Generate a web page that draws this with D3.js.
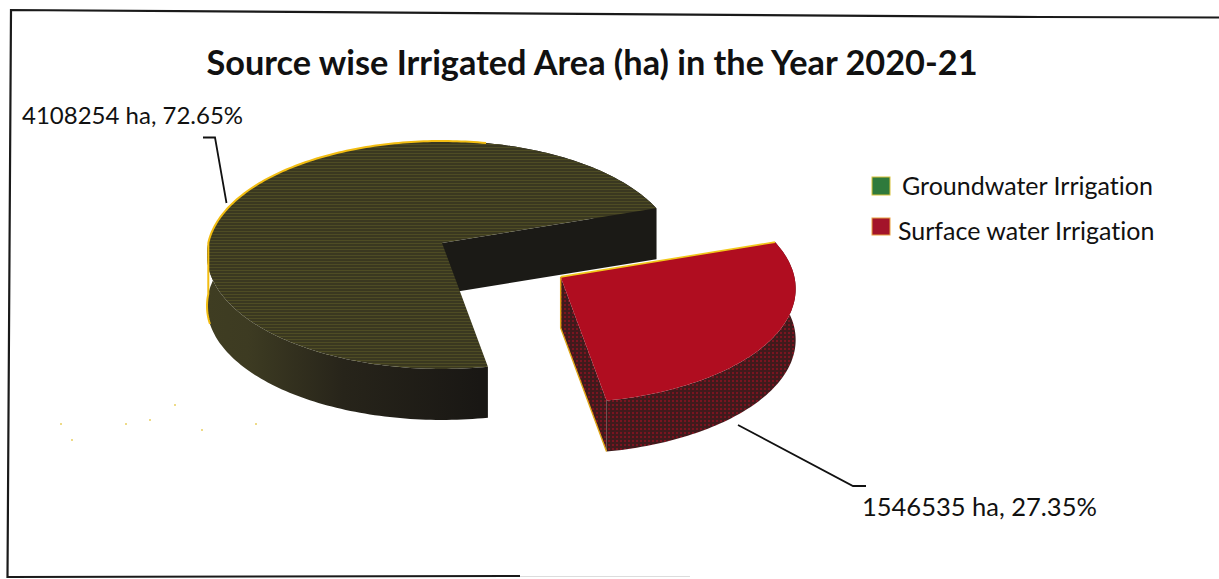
<!DOCTYPE html>
<html>
<head>
<meta charset="utf-8">
<script src="https://cdn.jsdelivr.net/npm/d3@7"></script>
<style>
  body { margin: 0; background: #fff; }
  text { fill: #111; font-family: Lato; font-variant-ligatures: none; }
</style>
</head>
<body>
<div id="chart"></div>
<script>
const categories = ['Groundwater Irrigation', 'Surface water Irrigation']
const areas = [4108254, 1546535]
const labels = ['4108254 ha, 72.65%', '1546535 ha, 27.35%']
const title = 'Source wise Irrigated Area (ha) in the Year 2020-21'

const width = 1219
const height = 579
const depth = 51
const explode = 0.572

// screen position of the pie centre and the radii of the tilted disc
const cx = 442
const cy = 243
const rx = 233.7
const ry = 112.7
const persp = 0.105
const deg = Math.PI / 180

const svg = d3
  .select('#chart')
  .append('svg')
  .attr('width', width)
  .attr('height', height)
  .style('display', 'block')

const defs = svg.append('defs')

// printed halftone look on the olive top
const oliveDots = defs
  .append('pattern')
  .attr('id', 'olive-top')
  .attr('patternUnits', 'userSpaceOnUse')
  .attr('width', 3)
  .attr('height', 3)
oliveDots.append('rect').attr('width', 3).attr('height', 3).attr('fill', '#3a3820')
oliveDots.append('rect').attr('width', 3).attr('height', 1).attr('fill', '#4e4c24')

const redHatch = defs
  .append('pattern')
  .attr('id', 'red-side')
  .attr('patternUnits', 'userSpaceOnUse')
  .attr('width', 4)
  .attr('height', 4)
redHatch.append('rect').attr('width', 4).attr('height', 4).attr('fill', '#401a1c')
redHatch.append('rect').attr('width', 2).attr('height', 2).attr('fill', '#7a1420')

const oliveSide = defs
  .append('linearGradient')
  .attr('id', 'olive-side')
  .attr('gradientUnits', 'userSpaceOnUse')
  .attr('x1', 207)
  .attr('x2', 480)
  .attr('y1', 0)
  .attr('y2', 0)
oliveSide.append('stop').attr('offset', '0').attr('stop-color', '#3f3d22')
oliveSide.append('stop').attr('offset', '0.15').attr('stop-color', '#3d3b22')
oliveSide.append('stop').attr('offset', '0.5').attr('stop-color', '#27241a')
oliveSide.append('stop').attr('offset', '1').attr('stop-color', '#191714')

// border of the scanned page, the bottom fades out
svg
  .append('path')
  .attr('d', 'M1219,17.5 L1040,17 L11,10 L7.5,577 L520,576')
  .attr('fill', 'none')
  .attr('stroke', '#1a1a1a')
  .attr('stroke-width', 2.2)
svg
  .append('path')
  .attr('d', 'M520,576.5 L690,576.5')
  .attr('fill', 'none')
  .attr('stroke', '#dcdcdc')
  .attr('stroke-width', 1.2)

svg
  .append('text')
  .attr('x', 592)
  .attr('y', 75)
  .attr('text-anchor', 'middle')
  .style('font-weight', 700)
  .style('font-size', '34.3px')
  .text(title)

// disc coordinates to screen
function project(X, Y) {
  const w = 1 - persp * Y
  return [cx + (rx * X) / w, cy + (ry * Y) / w]
}

const pie = d3
  .pie()
  .sort(null)
  .startAngle(Math.PI / 2 - 18.6 * deg)
  .endAngle(Math.PI / 2 + 2 * Math.PI - 18.6 * deg)

// clockwise from the right end of the olive slice: red first, olive after
const slices = pie([areas[1], areas[0]])

function arcPoints(a0, a1, shift) {
  const n = Math.ceil((a1 - a0) / 0.02)
  return d3.range(n + 1).map(i => {
    const a = a0 + ((a1 - a0) * i) / n - Math.PI / 2
    const p = project(Math.cos(a), Math.sin(a))
    return [p[0] + shift[0], p[1] + shift[1]]
  })
}

const line = d3.line()
const closed = pts => line(pts) + 'Z'
const down = p => [p[0], p[1] + depth]

function drawSlice(s, shift, topFill, sideFill, wallFill) {
  const top = arcPoints(s.startAngle, s.endAngle, shift)
  const apex = [cx + shift[0], cy + shift[1]]
  const end = top[top.length - 1]
  svg
    .append('path')
    .attr('d', closed(top.concat(top.map(down).reverse())))
    .attr('fill', sideFill)
  // only the cut at the end of the sweep faces the viewer
  svg
    .append('path')
    .attr('d', closed([apex, end, down(end), down(apex)]))
    .attr('fill', wallFill)
  svg
    .append('path')
    .attr('d', closed([apex].concat(top)))
    .attr('fill', topFill)
  return { top, apex }
}

drawSlice(slices[1], [0, 0], 'url(#olive-top)', 'url(#olive-side)', '#1b1a16')

const mid = (slices[0].startAngle + slices[0].endAngle) / 2 - Math.PI / 2
const off = project(explode * Math.cos(mid), explode * Math.sin(mid))
const redShift = [off[0] - cx, off[1] - cy]
const red = drawSlice(slices[0], redShift, '#b00d20', 'url(#red-side)', 'url(#red-side)')

// yellow rim left by the scan along the upper edges
const rimLeft = arcPoints(255 * deg, 270 * deg, [0, 0]).map(down)
const rimTop = arcPoints(270 * deg, 372 * deg, [0, 0])
svg
  .append('path')
  .attr('d', line(rimLeft.concat(rimTop)))
  .attr('fill', 'none')
  .attr('stroke', '#f2bd12')
  .attr('stroke-width', 2)
svg
  .append('path')
  .attr('d', line([red.apex, red.top[0]]))
  .attr('fill', 'none')
  .attr('stroke', '#f2c81a')
  .attr('stroke-width', 1.6)
const redEnd = red.top[red.top.length - 1]
svg
  .append('path')
  .attr('d', line([red.apex, down(red.apex), down(redEnd)]))
  .attr('fill', 'none')
  .attr('stroke', '#e0a818')
  .attr('stroke-width', 1.4)

// leader lines
svg
  .append('path')
  .attr('d', 'M203,137.5 L215,137.5 L226.5,203')
  .attr('fill', 'none')
  .attr('stroke', '#111')
  .attr('stroke-width', 1.8)
svg
  .append('path')
  .attr('d', 'M738,425 L853,486 L866,486')
  .attr('fill', 'none')
  .attr('stroke', '#111')
  .attr('stroke-width', 1.8)

svg
  .append('text')
  .attr('x', 22)
  .attr('y', 124)
  .style('font-size', '24px')
  .text(labels[0])
svg
  .append('text')
  .attr('x', 862)
  .attr('y', 516)
  .style('font-size', '25.5px')
  .text(labels[1])

// legend
const legendColors = ['#2f7a3c', '#a3142a']
const legendBox = [[872, 177], [872, 218]]
const legendText = [[902, 194.5], [898, 239.5]]
categories.forEach((c, i) => {
  svg
    .append('rect')
    .attr('x', legendBox[i][0])
    .attr('y', legendBox[i][1])
    .attr('width', 18)
    .attr('height', i === 0 ? 18 : 17)
    .attr('fill', legendColors[i])
    .attr('stroke', i === 0 ? '#d8c23a' : '#e8a040')
    .attr('stroke-width', 1)
  svg
    .append('text')
    .attr('x', legendText[i][0])
    .attr('y', legendText[i][1])
    .style('font-size', '25px')
    .text(c)
})

// faint yellow scan specks, lower left
const specks = [[61, 424], [72, 440], [126, 424], [150, 420], [175, 405], [202, 430], [256, 424]]
svg
  .selectAll('.speck')
  .data(specks)
  .enter()
  .append('circle')
  .attr('class', 'speck')
  .attr('cx', d => d[0])
  .attr('cy', d => d[1])
  .attr('r', 1)
  .attr('fill', '#e8cf60')
</script>
</body>
</html>
